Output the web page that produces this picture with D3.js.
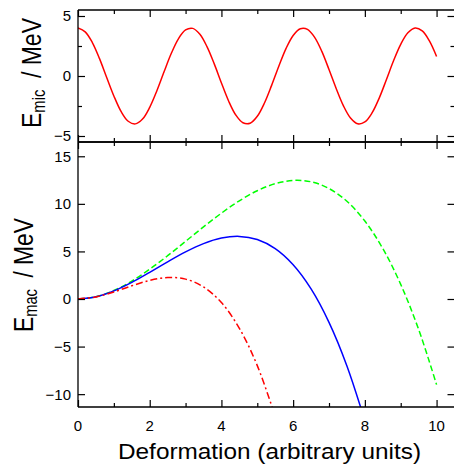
<!DOCTYPE html>
<html><head><meta charset="utf-8">
<script src="https://cdn.jsdelivr.net/npm/d3@7"></script>
<style>
body{margin:0;background:#fff}
svg{display:block}
text{font-family:"Liberation Sans",Arial,sans-serif;fill:#000}
</style>
</head><body>
<svg id="chart" width="454" height="464"></svg>
<script>
// ---- data ----
const xMic = [0,0.2,0.4,0.6,0.8,1,1.2,1.4,1.6,1.8,2,2.2,2.4,2.6,2.8,3,3.2,3.4,3.6,3.8,4,4.2,4.4,4.6,4.8,5,5.2,5.4,5.6,5.8,6,6.2,6.4,6.6,6.8,7,7.2,7.4,7.6,7.8,8,8.2,8.4,8.6,8.8,9,9.2,9.4,9.6,9.8,10];
const eMic = [4.00,3.68,2.79,1.45,-0.12,-1.66,-2.95,-3.77,-3.99,-3.59,-2.61,-1.23,0.35,1.87,3.10,3.84,3.97,3.48,2.43,1.01,-0.58,-2.08,-3.25,-3.90,-3.94,-3.36,-2.25,-0.78,0.81,2.28,3.38,3.94,3.89,3.22,2.05,0.54,-1.04,-2.47,-3.50,-3.98,-3.83,-3.08,-1.84,-0.31,1.27,2.64,3.60,4.00,3.76,2.93,1.63];

const xMac = [0,0.5,1,1.5,2,2.5,3,3.5,4,4.5,5,5.5,6,6.5,7,7.5,8,8.5,9,9.5,10];
const eMacSolid  = [0,0.23,0.85,1.74,2.80,3.91,4.95,5.82,6.40,6.58,6.25,5.29,3.60,1.06,-2.45,-7.03,-12.80];
const eMacDashed = [0,0.24,0.89,1.88,3.13,4.55,6.06,7.58,9.02,10.32,11.38,12.12,12.46,12.32,11.61,10.27,8.19,5.31,1.54,-3.20,-9.00];
const eMacDashDot= [0,0.22,0.74,1.39,1.95,2.25,2.09,1.27,-0.38,-3.08,-7.00,-12.34];

const xTicksMajor = [0,2,4,6,8,10];
const xTicksMinor = [1,3,5,7,9];
const micTicksMajor = [-5,0,5];
const micTicksMinor = [-2.5,2.5];
const macTicksMajor = [-10,-5,0,5,10,15];

const xLabel = "Deformation (arbitrary units)";

// ---- layout ----
const svg = d3.select("#chart");
const x = d3.scaleLinear().domain([0,10.5]).range([78,454.5]);
const yMic = d3.scaleLinear().domain([-5.5,5.5]).range([142,10]);
const yMac = d3.scaleLinear().domain([-11.35,16.5]).range([407,142]);
const minus = d => String(d).replace("-","\u2212");

function clip(id, y0, y1){
  svg.append("clipPath").attr("id",id).append("rect")
    .attr("x",x.range()[0]).attr("y",y0).attr("width",x.range()[1]-x.range()[0]).attr("height",y1-y0);
}
clip("cTop",10,142);
clip("cBot",142,407);

function line(xs, ys, yScale){
  return d3.line().x((d,i)=>x(xs[i])).y(d=>yScale(d)).curve(d3.curveCatmullRom.alpha(0.5))(ys);
}

// curves
svg.append("path").attr("clip-path","url(#cTop)")
  .attr("d",line(xMic,eMic,yMic)).attr("fill","none").attr("stroke","#ff0000").attr("stroke-width",1.5);

svg.append("path").attr("clip-path","url(#cBot)")
  .attr("d",line(xMac,eMacDashed,yMac)).attr("fill","none").attr("stroke","#00ff00").attr("stroke-width",1.5)
  .attr("stroke-dasharray","6,3");
svg.append("path").attr("clip-path","url(#cBot)")
  .attr("d",line(xMac,eMacSolid,yMac)).attr("fill","none").attr("stroke","#0000ff").attr("stroke-width",1.5);
svg.append("path").attr("clip-path","url(#cBot)")
  .attr("d",line(xMac,eMacDashDot,yMac)).attr("fill","none").attr("stroke","#ff0000").attr("stroke-width",1.5)
  .attr("stroke-dasharray","7,3,2,3");

// frames and ticks
function styleAxis(g){
  g.select(".domain").remove();
  g.selectAll(".tick line").attr("stroke","#000").attr("stroke-width",1.2);
  g.selectAll("text").style("font-size","15px").style("font-family",'"Liberation Sans",Arial,sans-serif');
}
function frame(yScale, yMaj, yMin){
  const [yb, yt] = yScale.range();
  const x0 = x.range()[0], x1 = x.range()[1];
  const fr = svg.append("g");
  fr.append("path").attr("d",`M${x0},${yt}V${yb}M${x0},${yt}H${x1}M${x0},${yb}H${x1}`)
    .attr("stroke","#000").attr("stroke-width",1.3).attr("fill","none");
  // left
  svg.append("g").attr("transform",`translate(${x0},0)`)
    .call(d3.axisRight(yScale).tickValues(yMaj).tickSize(7).tickFormat("")).call(styleAxis);
  if(yMin) svg.append("g").attr("transform",`translate(${x0},0)`)
    .call(d3.axisRight(yScale).tickValues(yMin).tickSize(4).tickFormat("")).call(styleAxis);
  // right
  svg.append("g").attr("transform",`translate(${x1},0)`)
    .call(d3.axisLeft(yScale).tickValues(yMaj).tickSize(7).tickFormat("")).call(styleAxis);
  if(yMin) svg.append("g").attr("transform",`translate(${x1},0)`)
    .call(d3.axisLeft(yScale).tickValues(yMin).tickSize(4).tickFormat("")).call(styleAxis);
  // top and bottom
  svg.append("g").attr("transform",`translate(0,${yt})`)
    .call(d3.axisBottom(x).tickValues(xTicksMajor).tickSize(7).tickFormat("")).call(styleAxis);
  svg.append("g").attr("transform",`translate(0,${yt})`)
    .call(d3.axisBottom(x).tickValues(xTicksMinor).tickSize(4).tickFormat("")).call(styleAxis);
  svg.append("g").attr("transform",`translate(0,${yb})`)
    .call(d3.axisTop(x).tickValues(xTicksMajor).tickSize(7).tickFormat("")).call(styleAxis);
  svg.append("g").attr("transform",`translate(0,${yb})`)
    .call(d3.axisTop(x).tickValues(xTicksMinor).tickSize(4).tickFormat("")).call(styleAxis);
  // y labels
  svg.append("g").selectAll("text").data(yMaj).join("text")
    .attr("x",71).attr("y",d=>yScale(d)).attr("dy","0.36em")
    .attr("text-anchor","end").style("font-size","15px").text(minus);
}
frame(yMic, micTicksMajor, micTicksMinor);
frame(yMac, macTicksMajor, null);

// x tick labels
svg.append("g").selectAll("text").data(xTicksMajor).join("text")
  .attr("x",d=>x(d)).attr("y",431).attr("text-anchor","middle").style("font-size","15px").text(d=>d);

// x title
svg.append("text").attr("x",269.5).attr("y",459).attr("text-anchor","middle")
  .attr("textLength",303).attr("lengthAdjust","spacingAndGlyphs")
  .style("font-size","22px").text(xLabel);

// y titles
function yTitle(cx, cy, sub, len){
  const t = svg.append("text").attr("transform",`translate(${cx},${cy}) rotate(-90)`)
    .attr("text-anchor","middle").attr("textLength",len).attr("lengthAdjust","spacingAndGlyphs")
    .style("font-size","28px");
  t.append("tspan").text("E");
  t.append("tspan").attr("dy",4).style("font-size","18px").text(sub);
  t.append("tspan").attr("dy",-4).text("\u2002/ MeV");
}
yTitle(41, 73, "mic", 110);
yTitle(33, 275, "mac", 114);
</script>
</body></html>
